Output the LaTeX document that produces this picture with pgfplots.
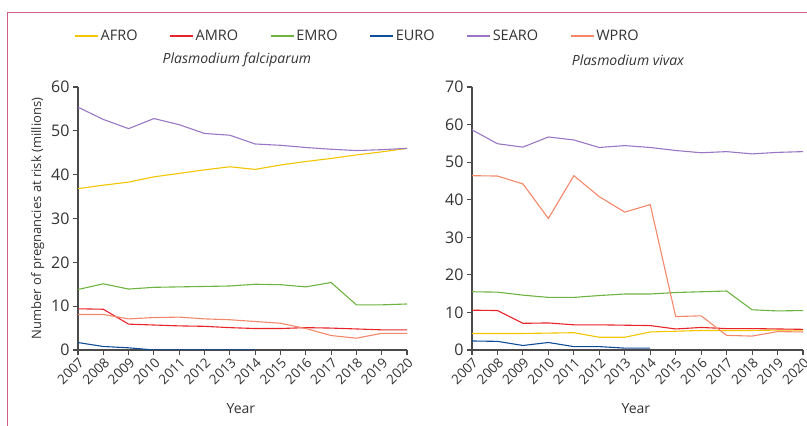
\documentclass[border=0pt]{standalone}
\usepackage{fontspec}
\setmainfont{Open Sans}
\usepackage{pgfplots}
\pgfplotsset{compat=1.18}

\definecolor{afro}{HTML}{F2C500}
\definecolor{amro}{HTML}{E8242A}
\definecolor{emro}{HTML}{6DB33F}
\definecolor{euro}{HTML}{0F4C99}
\definecolor{searo}{HTML}{9A77C4}
\definecolor{wpro}{HTML}{F4876A}
\definecolor{axisgray}{HTML}{4A4A4A}
\definecolor{textgray}{HTML}{333333}
\definecolor{frame}{HTML}{CF5F80}

\pgfplotsset{
  malaria/.style={
    scale only axis,
    height=263bp,
    xmin=2007, xmax=2020,
    ymin=0,
    xtick={2007,...,2020},
    axis x line*=bottom,
    axis y line*=left,
    axis line style={axisgray, line width=1.1bp},
    tick style={axisgray, line width=1.1bp},
    tick align=outside,
    major tick length=5bp,
    /pgf/number format/assume math mode=true,
    /pgf/number format/1000 sep={},
    xticklabel style={rotate=45, anchor=north east, font=\fontsize{13.5bp}{15bp}\selectfont, text=textgray, inner sep=1bp},
    yticklabel style={font=\fontsize{16bp}{18bp}\selectfont, text=textgray},
    xlabel={Year},
    xlabel style={font=\fontsize{14bp}{16bp}\selectfont, text=textgray, at={(axis description cs:0.495,-0.222)}, anchor=center},
    every axis title/.style={font=\fontsize{14bp}{16bp}\selectfont\itshape, text=textgray, anchor=center},
    every axis plot/.append style={line width=1.1bp},
  }
}

\begin{document}
\begin{tikzpicture}
\useasboundingbox (0,0) rectangle (807bp,426bp);
\draw[frame, line width=1.2bp] (7.5bp,-1bp) -- (7.5bp,413.3bp) -- (808bp,413.3bp);

% Plasmodium falciparum
\begin{axis}[malaria,
  at={(78bp,76bp)}, anchor=south west,
  width=329bp,
  ymax=60, ytick={0,10,...,60},
  ylabel={Number of pregnancies at risk (millions)},
  ylabel style={font=\fontsize{13bp}{15bp}\selectfont, text=textgray},
  title={Plasmodium falciparum},
  title style={at={(axis description cs:0.483,1.103)}},
  legend columns=6,
  legend style={at={(axis description cs:-0.02,1.194)}, anchor=west, draw=none, fill=none,
    font=\fontsize{14.5bp}{16bp}\selectfont, text=textgray,
    /tikz/every even column/.append style={column sep=30bp}},
  legend image code/.code={\draw[#1] (0bp,0bp) -- (23bp,0bp);},
]
\addplot[afro] coordinates {
  (2007,36.8) (2008,37.6) (2009,38.3) (2010,39.5) (2011,40.3) (2012,41.1) (2013,41.8)
  (2014,41.2) (2015,42.2) (2016,43.0) (2017,43.7) (2018,44.5) (2019,45.2) (2020,46.0)};
\addlegendentry{AFRO}
\addplot[amro] coordinates {
  (2007,9.4) (2008,9.3) (2009,5.9) (2010,5.7) (2011,5.5) (2012,5.4) (2013,5.1)
  (2014,4.9) (2015,4.9) (2016,5.1) (2017,5.0) (2018,4.8) (2019,4.6) (2020,4.6)};
\addlegendentry{AMRO}
\addplot[emro] coordinates {
  (2007,13.8) (2008,15.1) (2009,13.9) (2010,14.3) (2011,14.4) (2012,14.5) (2013,14.6)
  (2014,15.0) (2015,14.9) (2016,14.4) (2017,15.4) (2018,10.3) (2019,10.3) (2020,10.5)};
\addlegendentry{EMRO}
\addplot[euro] coordinates {
  (2007,1.7) (2008,0.8) (2009,0.5) (2010,0) (2011,0) (2012,0) (2013,0) (2014,0)};
\addlegendentry{EURO}
\addplot[searo] coordinates {
  (2007,55.4) (2008,52.6) (2009,50.5) (2010,52.8) (2011,51.4) (2012,49.4) (2013,49.0)
  (2014,47.0) (2015,46.7) (2016,46.2) (2017,45.8) (2018,45.5) (2019,45.7) (2020,46.0)};
\addlegendentry{SEARO}
\addplot[wpro] coordinates {
  (2007,8.1) (2008,8.1) (2009,7.1) (2010,7.4) (2011,7.5) (2012,7.1) (2013,6.9)
  (2014,6.5) (2015,6.1) (2016,4.9) (2017,3.3) (2018,2.7) (2019,3.8) (2020,3.8)};
\addlegendentry{WPRO}
\end{axis}

% Plasmodium vivax
\begin{axis}[malaria,
  at={(472bp,76bp)}, anchor=south west,
  width=331bp,
  ymax=70, ytick={0,10,...,70},
  title={Plasmodium vivax},
  title style={at={(axis description cs:0.471,1.103)}},
]
\addplot[afro] coordinates {
  (2007,4.4) (2008,4.4) (2009,4.4) (2010,4.5) (2011,4.6) (2012,3.4) (2013,3.4)
  (2014,4.8) (2015,5.0) (2016,5.2) (2017,5.2) (2018,5.2) (2019,5.3) (2020,5.3)};
\addplot[amro] coordinates {
  (2007,10.6) (2008,10.5) (2009,7.1) (2010,7.2) (2011,6.7) (2012,6.7) (2013,6.6)
  (2014,6.5) (2015,5.6) (2016,6.0) (2017,5.7) (2018,5.7) (2019,5.6) (2020,5.5)};
\addplot[emro] coordinates {
  (2007,15.5) (2008,15.4) (2009,14.6) (2010,14.0) (2011,14.0) (2012,14.5) (2013,14.9)
  (2014,14.9) (2015,15.3) (2016,15.5) (2017,15.7) (2018,10.7) (2019,10.4) (2020,10.5)};
\addplot[euro] coordinates {
  (2007,2.4) (2008,2.3) (2009,1.2) (2010,2.0) (2011,0.9) (2012,0.9) (2013,0.5) (2014,0.5)};
\addplot[searo] coordinates {
  (2007,58.6) (2008,54.9) (2009,54.0) (2010,56.7) (2011,55.9) (2012,53.9) (2013,54.4)
  (2014,53.9) (2015,53.1) (2016,52.5) (2017,52.8) (2018,52.2) (2019,52.6) (2020,52.8)};
\addplot[wpro] coordinates {
  (2007,46.4) (2008,46.3) (2009,44.2) (2010,35.0) (2011,46.4) (2012,40.8) (2013,36.7)
  (2014,38.7) (2015,8.9) (2016,9.1) (2017,3.9) (2018,3.7) (2019,4.9) (2020,4.8)};
\end{axis}
\end{tikzpicture}
\end{document}
